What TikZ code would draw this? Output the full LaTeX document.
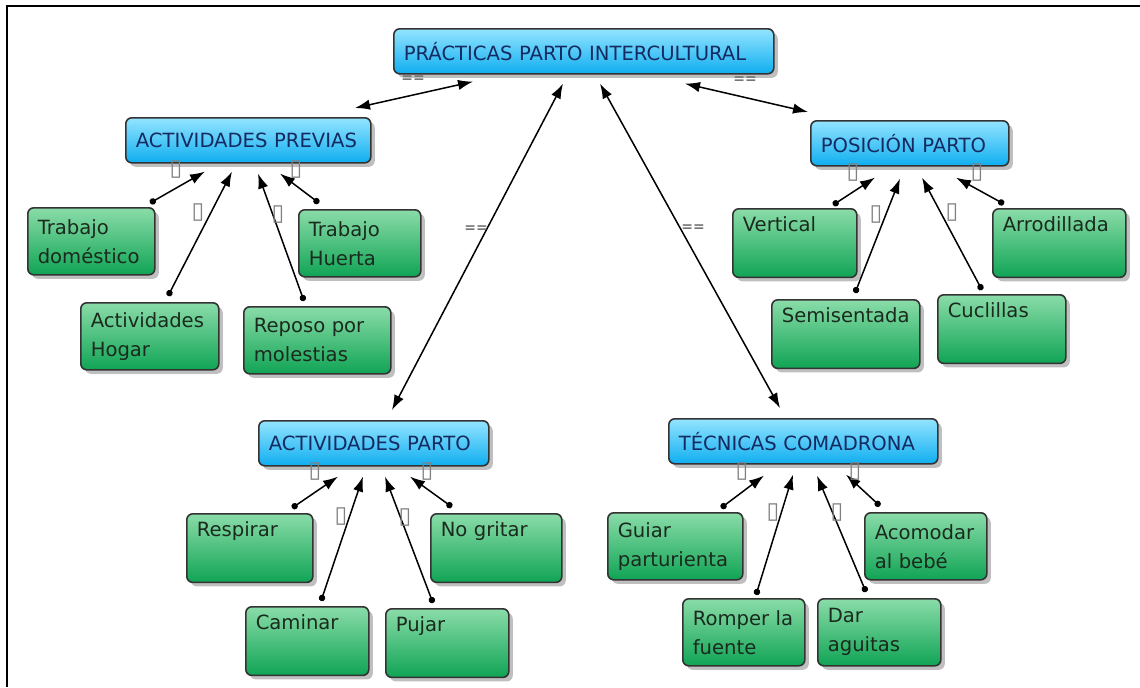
\documentclass[tikz,border=0pt]{standalone}
\usepackage{fontspec}
\setmainfont{DejaVu Sans}
\usetikzlibrary{arrows.meta, calc, shadows}

\definecolor{topicTop}{HTML}{93E4FF}
\definecolor{topicBot}{HTML}{0FAEF0}
\definecolor{topicText}{HTML}{142A60}
\definecolor{leafTop}{HTML}{8ADCA8}
\definecolor{leafBot}{HTML}{10A455}
\definecolor{leafText}{HTML}{1A2A1E}

\begin{document}
\begin{tikzpicture}[
  x=0.5pt, y=-0.5pt,
  >={Latex[length=7.5pt, width=5.2pt]},
  topic/.style={draw=black!80, line width=0.8pt, rounded corners=3pt, anchor=north west,
    top color=topicTop, bottom color=topicBot, text=topicText, align=left, text width=#1,
    minimum height=22.5pt, inner xsep=5pt, inner ysep=2pt, font=\fontsize{9.8}{14.5}\selectfont,
    drop shadow={shadow xshift=2pt, shadow yshift=-2pt, opacity=0.5}},
  leaf/.style={draw=black!80, line width=0.8pt, rounded corners=3pt, anchor=north west,
    top color=leafTop, bottom color=leafBot, text=leafText, align=left, text width=#1,
    minimum height=33.5pt, inner xsep=5pt, inner ysep=4pt, font=\fontsize{9.8}{14.5}\selectfont,
    drop shadow={shadow xshift=2pt, shadow yshift=-2pt, opacity=0.5}},
  link/.style={<->, line width=0.75pt},
  sublink/.style={{Circle[length=3.2pt]}->, line width=0.75pt},
  boxglyph/.style={text=black!50, font=\fontsize{11.5}{11.5}\selectfont, inner sep=0pt},
  eqlabel/.style={text=black!55, font=\fontsize{7}{7}\selectfont\bfseries, inner sep=0pt}
]
\useasboundingbox (0,0) rectangle (1140,687);
\draw[line width=1.3pt] (7,687) -- (7,6) -- (1140,6);

% main concept and the four groups
\node[topic=180pt] (root) at (393,28) {PRÁCTICAS PARTO INTERCULTURAL};
\node[topic=112.5pt] (ap) at (125,117) {ACTIVIDADES PREVIAS};
\node[topic=89pt] (pp) at (810,120) {POSICIÓN PARTO};
\node[topic=105pt] (apa) at (258,420) {ACTIVIDADES PARTO};
\node[topic=124.5pt] (tc) at (668,418) {TÉCNICAS COMADRONA};

% actividades previas
\node[leaf=53.5pt] (td) at (27,207) {Trabajo\\doméstico};
\node[leaf=51pt] (th) at (298,209) {Trabajo\\Huerta};
\node[leaf=59pt] (ah) at (80,302) {Actividades\\Hogar};
\node[leaf=63.5pt] (rm) at (243,306) {Reposo por\\molestias};

% posicion parto
\node[leaf=52pt] (ve) at (732,208) {Vertical\\\strut};
\node[leaf=56.5pt] (ar) at (992,208) {Arrodillada\\\strut};
\node[leaf=64pt] (se) at (771,299) {Semisentada\\\strut};
\node[leaf=54pt] (cu) at (937,294) {Cuclillas\\\strut};

% actividades parto
\node[leaf=53pt] (re) at (186,513) {Respirar\\\strut};
\node[leaf=55.5pt] (ng) at (430,513) {No gritar\\\strut};
\node[leaf=51.5pt] (ca) at (245,606) {Caminar\\\strut};
\node[leaf=51.5pt] (pu) at (385,608) {Pujar\\\strut};

% tecnicas comadrona
\node[leaf=57.5pt] (gp) at (607,512) {Guiar\\parturienta};
\node[leaf=51pt] (ab) at (864,512) {Acomodar\\al bebé};
\node[leaf=51pt] (rf) at (682,598) {Romper la\\fuente};
\node[leaf=51.5pt] (da) at (817,598) {Dar\\aguitas};

% links from the main concept
\draw[link] ($(root.south west)+(80,7)$) -- ($(ap.north west)+(230,-9)$);
\draw[link] ($(root.south west)+(292,9)$) -- ($(pp.north west)+(-2,-8)$);
\draw[link] ($(root.south west)+(170,9)$) -- ($(apa.north west)+(134,-10)$);
\draw[link] ($(root.south west)+(207,9)$) -- ($(tc.north west)+(112,-10)$);

\draw[sublink] ($(td.north west)+(123,-4)$) -- ($(ap.south west)+(80,8)$);
\draw[sublink] ($(ah.north west)+(88,-6)$) -- ($(ap.south west)+(107,8)$);
\draw[sublink] ($(rm.north west)+(61,-5)$) -- ($(ap.south west)+(133,10)$);
\draw[sublink] ($(th.north west)+(21,-6)$) -- ($(ap.south west)+(155,10)$);

\draw[sublink] ($(ve.north west)+(101,-3)$) -- ($(pp.south west)+(65,11)$);
\draw[sublink] ($(se.north west)+(84,-6)$) -- ($(pp.south west)+(90,12)$);
\draw[sublink] ($(cu.north west)+(45,-4)$) -- ($(pp.south west)+(112,11)$);
\draw[sublink] ($(ar.north west)+(12,-4)$) -- ($(pp.south west)+(146,11)$);

\draw[sublink] ($(re.north west)+(106,-5)$) -- ($(apa.south west)+(80,10)$);
\draw[sublink] ($(ca.north west)+(76,-5)$) -- ($(apa.south west)+(105,10)$);
\draw[sublink] ($(pu.north west)+(48,-5)$) -- ($(apa.south west)+(127,10)$);
\draw[sublink] ($(ng.north west)+(22,-6)$) -- ($(apa.south west)+(152,10)$);

\draw[sublink] ($(gp.north west)+(114,-4)$) -- ($(tc.south west)+(96,11)$);
\draw[sublink] ($(rf.north west)+(74,-3)$) -- ($(tc.south west)+(125,10)$);
\draw[sublink] ($(da.north west)+(49,-6)$) -- ($(tc.south west)+(149,11)$);
\draw[sublink] ($(ab.north west)+(16,-6)$) -- ($(tc.south west)+(178,10)$);

% link labels
\node[eqlabel] (eq1) at (413,79) {==};
\node[eqlabel] (eq2) at (745,80) {==};
\node[eqlabel] (eq3) at (476,229) {==};
\node[eqlabel] (eq4) at (693,228) {==};
\foreach \gx/\gy [count=\i] in {176/170, 198/213, 278/215, 296/170,
    853/173, 876/215, 952/213, 977/173,
    315/472, 341/517, 405/518, 427/472,
    742/472, 773/513, 837/513, 855/472}
  \node[boxglyph] (g\i) at (\gx,\gy) {▯};
\end{tikzpicture}
\end{document}
